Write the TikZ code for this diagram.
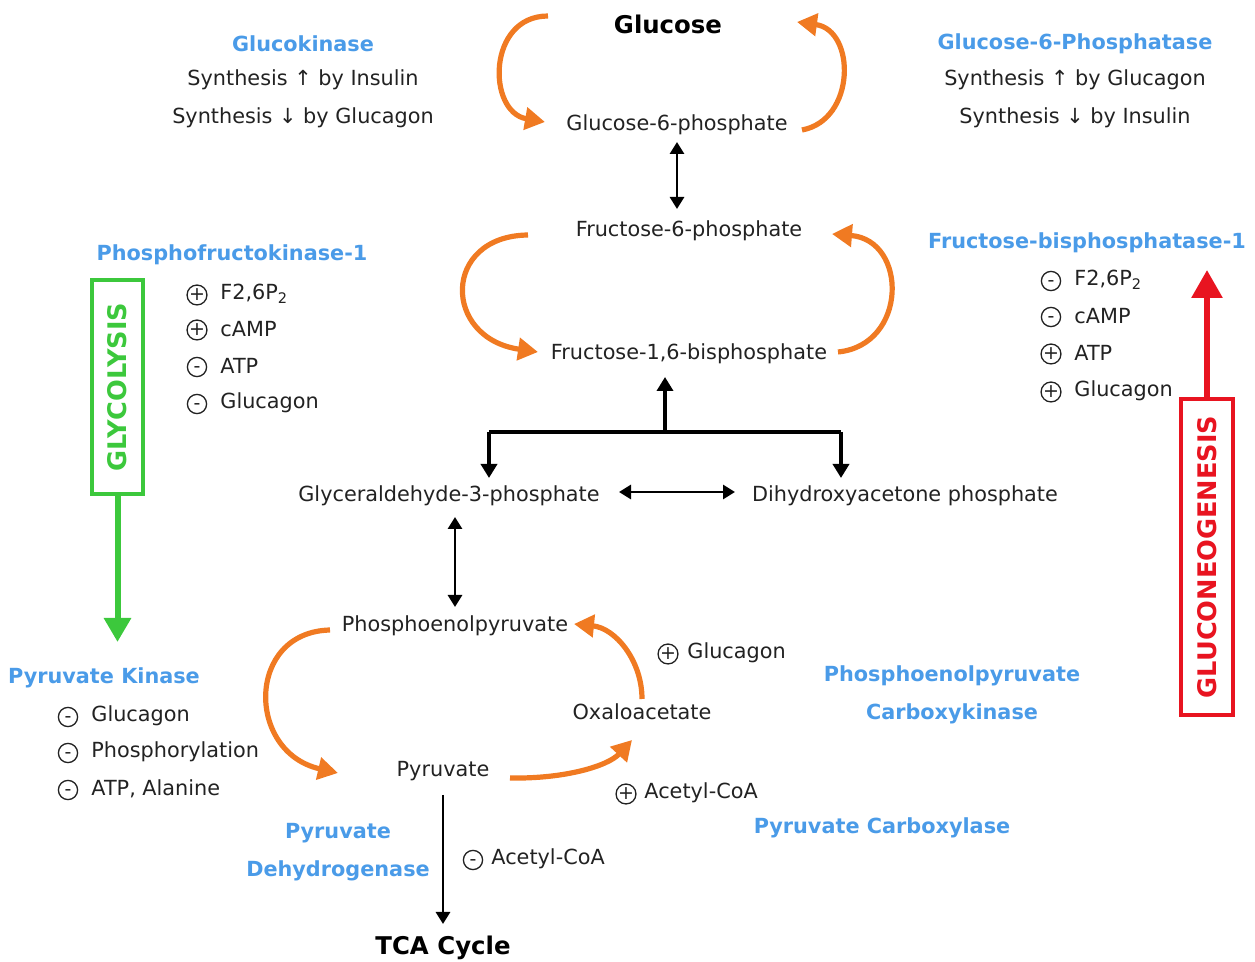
\documentclass[tikz,border=0pt]{standalone}
\usepackage{fontspec}
\setmainfont{DejaVu Sans}
\usetikzlibrary{arrows.meta}
\definecolor{enz}{HTML}{4A9BE8}
\definecolor{orng}{HTML}{F07A22}
\definecolor{grn}{HTML}{3CC83C}
\definecolor{rd}{HTML}{E81420}
\definecolor{txt}{HTML}{222222}
\tikzset{
  every node/.style={font=\fontsize{10.4}{12.5}\selectfont, text=txt, inner sep=1pt, yshift=-1pt},
  enzyme/.style={font=\fontsize{10.4}{12}\selectfont\bfseries, text=enz},
  titletext/.style={font=\fontsize{12.2}{14}\selectfont\bfseries, text=black},
  reg/.style={anchor=west},
  sgn/.style={circle, draw=txt, line width=0.65pt, minimum size=9.6pt, inner sep=0pt,
    font=\fontsize{9.5}{9.5}\selectfont, text height=6pt, text depth=0pt, yshift=-0.5pt},
  orarr/.style={draw=orng, line width=2.6pt, -{Triangle[length=10pt,width=11pt]}},
  dblarr/.style={draw=black, line width=1.4pt, {Triangle[length=6pt,width=7pt]}-{Triangle[length=6pt,width=7pt]}},
  thickarr/.style={draw=black, line width=2pt, -{Triangle[length=7pt,width=8pt]}},
  thickline/.style={draw=black, line width=2pt},
  pdharr/.style={draw=black, line width=1.4pt, -{Triangle[length=6pt,width=7pt]}},
  glybox/.style={draw=grn, line width=2pt, minimum width=25.5pt, minimum height=107pt, inner sep=0pt, yshift=0pt},
  gngbox/.style={draw=rd, line width=2pt, minimum width=26pt, minimum height=158pt, inner sep=0pt, yshift=0pt},
  boxtext/.style={font=\fontsize{12.8}{14}\selectfont\bfseries, rotate=90, yshift=0pt},
  glyarr/.style={draw=grn, line width=3pt, -{Triangle[length=12pt,width=13pt]}},
  gngarr/.style={draw=rd, line width=3pt, -{Triangle[length=14pt,width=15pt]}},
}
\begin{document}
\begin{tikzpicture}[x=0.5pt,y=-0.5pt]
\useasboundingbox (0,0) rectangle (1255,962);

% metabolites
\node[titletext] (glc) at (668,22) {Glucose};
\node (g6p) at (677,123) {Glucose-6-phosphate};
\node (f6p) at (689,229) {Fructose-6-phosphate};
\node (f16bp) at (689,352) {Fructose-1,6-bisphosphate};
\node (gap) at (449,494) {Glyceraldehyde-3-phosphate};
\node (dhap) at (905,494) {Dihydroxyacetone phosphate};
\node (pep) at (455,624) {Phosphoenolpyruvate};
\node (oaa) at (642,710) {Oxaloacetate};
\node (pyr) at (443,769) {Pyruvate};
\node[titletext] (tca) at (443,946) {TCA Cycle};

% enzymes and regulation
\node[enzyme] (gk) at (303,42) {Glucokinase};
\node (gk1) at (303,78) {Synthesis ↑ by Insulin};
\node (gk2) at (303,116) {Synthesis ↓ by Glucagon};

\node[enzyme] (g6pase) at (1075,42) {Glucose-6-Phosphatase};
\node (gp1) at (1075,78) {Synthesis ↑ by Glucagon};
\node (gp2) at (1075,116) {Synthesis ↓ by Insulin};

\node[enzyme] (pfk) at (232,253) {Phosphofructokinase-1};
\node[sgn] (pfk1s) at (197,292) {+};
\node[reg] (pfk1) at (218,292) {F2,6P\textsubscript{2}};
\node[sgn] (pfk2s) at (197,327) {+};
\node[reg] (pfk2) at (218,327) {cAMP};
\node[sgn] (pfk3s) at (197,364) {-};
\node[reg] (pfk3) at (218,364) {ATP};
\node[sgn] (pfk4s) at (197,401) {-};
\node[reg] (pfk4) at (218,401) {Glucagon};

\node[enzyme] (fbp) at (1087,241) {Fructose-bisphosphatase-1};
\node[sgn] (fbp1s) at (1051,278) {-};
\node[reg] (fbp1) at (1072,278) {F2,6P\textsubscript{2}};
\node[sgn] (fbp2s) at (1051,314) {-};
\node[reg] (fbp2) at (1072,314) {cAMP};
\node[sgn] (fbp3s) at (1051,351) {+};
\node[reg] (fbp3) at (1072,351) {ATP};
\node[sgn] (fbp4s) at (1051,389) {+};
\node[reg] (fbp4) at (1072,389) {Glucagon};

\node[enzyme] (pk) at (104,676) {Pyruvate Kinase};
\node[sgn] (pk1s) at (68,714) {-};
\node[reg] (pk1) at (89,714) {Glucagon};
\node[sgn] (pk2s) at (68,750) {-};
\node[reg] (pk2) at (89,750) {Phosphorylation};
\node[sgn] (pk3s) at (68,787) {-};
\node[reg] (pk3) at (89,787) {ATP, Alanine};

\node[sgn] (pepckregs) at (668,651) {+};
\node[reg] (pepckreg) at (685,651) {Glucagon};
\node[enzyme] (pepck1) at (952,674) {Phosphoenolpyruvate};
\node[enzyme] (pepck2) at (952,712) {Carboxykinase};

\node[sgn] (pcregs) at (626,791) {+};
\node[reg] (pcreg) at (642,791) {Acetyl-CoA};
\node[enzyme] (pc) at (882,826) {Pyruvate Carboxylase};

\node[enzyme] (pdh1) at (338,831) {Pyruvate};
\node[enzyme] (pdh2) at (338,869) {Dehydrogenase};
\node[sgn] (pdhregs) at (473,857) {-};
\node[reg] (pdhreg) at (489,857) {Acetyl-CoA};

% orange arcs (irreversible steps)
\coordinate (a1s) at (548,14);  \coordinate (a1e) at (545,120);
\coordinate (a2s) at (802,128); \coordinate (a2e) at (797,20);
\coordinate (a3s) at (528,233); \coordinate (a3e) at (538,350);
\coordinate (a4s) at (838,350); \coordinate (a4e) at (832,232);
\coordinate (a5s) at (330,628); \coordinate (a5e) at (338,771);
\coordinate (a6s) at (510,776); \coordinate (a6e) at (632,738);
\coordinate (a7s) at (642,697); \coordinate (a7e) at (574,622);
\draw[orarr] (a1s) .. controls (487,16) and (487,112) .. (a1e);
\draw[orarr] (a2s) .. controls (856,120) and (856,30) .. (a2e);
\draw[orarr] (a3s) .. controls (442,236) and (442,338) .. (a3e);
\draw[orarr] (a4s) .. controls (908,345) and (908,240) .. (a4e);
\draw[orarr] (a5s) .. controls (246,632) and (246,752) .. (a5e);
\draw[orarr] (a6s) .. controls (565,779) and (608,766) .. (a6e);
\draw[orarr] (a7s) .. controls (642,660) and (615,628) .. (a7e);

% reversible steps
\coordinate (r1s) at (677,140); \coordinate (r1e) at (677,207);
\draw[dblarr] (r1s) -- (r1e);
\coordinate (r2s) at (619,490); \coordinate (r2e) at (735,490);
\draw[dblarr] (r2s) -- (r2e);
\coordinate (r3s) at (455,515); \coordinate (r3e) at (455,605);
\draw[dblarr] (r3s) -- (r3e);

% aldolase branch
\coordinate (bm) at (665,430);
\coordinate (bl) at (489,430);
\coordinate (br) at (841,430);
\coordinate (btop) at (665,375);
\coordinate (bgap) at (489,476);
\coordinate (bdhap) at (841,476);
\draw[thickline] (bl) -- (br);
\draw[thickarr] (bm) -- (btop);
\draw[thickarr] (bl) -- (bgap);
\draw[thickarr] (br) -- (bdhap);

% pyruvate dehydrogenase
\coordinate (pdhs) at (443,793); \coordinate (pdhe) at (443,922);
\draw[pdharr] (pdhs) -- (pdhe);

% pathway boxes
\coordinate (glyend) at (117.5,640);
\coordinate (gngend) at (1207,268);
\node[glybox] (gly) at (117.5,385) {};
\node[boxtext, text=grn] (glyt) at (117.5,385) {GLYCOLYSIS};
\draw[glyarr] (gly.south) -- (glyend);
\node[gngbox] (gng) at (1207,555) {};
\node[boxtext, text=rd] (gngt) at (1207,555) {GLUCONEOGENESIS};
\draw[gngarr] (gng.north) -- (gngend);
\end{tikzpicture}
\end{document}
